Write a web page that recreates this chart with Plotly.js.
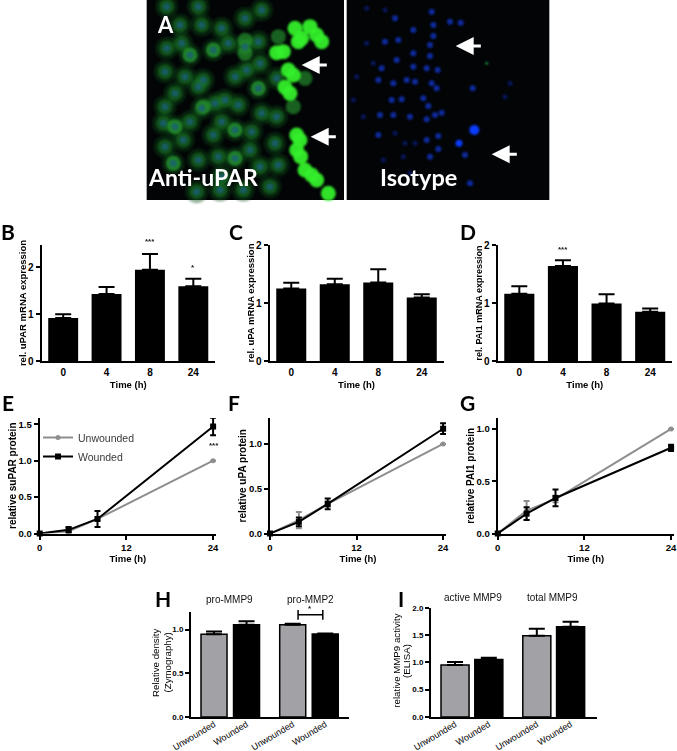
<!DOCTYPE html>
<html>
<head>
<meta charset="utf-8">
<script src="https://cdn.plot.ly/plotly-3.0.1.min.js"></script>
<style>
  html, body { margin: 0; padding: 0; background: white; }
  #chart { width: 677px; height: 751px; }
</style>
</head>
<body>
<div id="chart"></div>
<script>
// mRNA panels (B, C, D)
const timeCats = ['0', '4', '8', '24'];
const uparMrna = [0.92, 1.43, 1.95, 1.60];
const uparMrnaErr = [0.08, 0.15, 0.34, 0.16];
const upaMrna = [1.25, 1.325, 1.355, 1.095];
const upaMrnaErr = [0.10, 0.095, 0.225, 0.055];
const pai1Mrna = [1.16, 1.64, 0.99, 0.85];
const pai1MrnaErr = [0.13, 0.095, 0.16, 0.055];

// protein panels (E, F, G)
const hours = [0, 4, 8, 24];
const suparUnw = [0, 0.03, 0.20, 1.0];
const suparUnwErr = [0, 0.01, 0.02, 0];
const suparW = [0, 0.05, 0.20, 1.47];
const suparWErr = [0, 0.04, 0.11, 0.12];
const upaUnw = [0, 0.15, 0.33, 1.0];
const upaUnwErr = [0, 0.09, 0.03, 0];
const upaW = [0, 0.13, 0.33, 1.17];
const upaWErr = [0, 0.05, 0.06, 0.06];
const pai1Unw = [0, 0.22, 0.33, 1.0];
const pai1UnwErr = [0, 0.09, 0.03, 0];
const pai1W = [0, 0.19, 0.34, 0.82];
const pai1WErr = [0, 0.06, 0.08, 0.03];

// zymography + ELISA (H, I)
const woundCats = ['Unwounded', 'Wounded', 'Unwounded', 'Wounded'];
const barSlots = [0, 1, 2.42, 3.42];
const zymo = [0.947, 1.053, 1.053, 0.95];
const zymoErr = [0.03, 0.042, 0.012, 0.005];
const elisa = [0.95, 1.05, 1.488, 1.652];
const elisaErr = [0.056, 0.035, 0.128, 0.092];

// panel A micrograph, spots (crop coordinates, 3x)
const cellX = [120,185,80,175,245,315,365,125,150,220,265,315,355,80,360,135,75,190,285,320,355,410,105,175,255,295,185,225,75,150,105,70,285,220,335,245,410,365,130,75,175,100,235,285,330,405,360,415,245,170,390,310,240];
const cellY = [75,75,20,20,85,55,30,130,165,150,130,140,125,145,190,230,215,240,230,210,265,235,280,260,300,315,325,310,320,365,380,370,390,405,395,365,350,340,420,440,480,490,470,475,450,430,500,495,530,575,560,570,570];
const glowX = [315,315,220,150,285,355,190,105,285,100,495,460,415];
const glowY = [120,160,150,165,390,265,320,380,475,490,235,320,110];
const brightX = [465,485,510,475,530,545,410,430,445,460,435,450,470,480,470,482,495,515,530,565];
const brightY = [85,115,80,125,105,125,158,155,210,225,262,280,405,420,450,470,510,525,540,580];
const nucleiX = [875,880,930,962,880,870,870,860,893,875,850,865,890,860,885,905,860,895,895,975,990,870,998,785,800,770,820,820,775,765,820,735,725,715,760,825,755,810,760,720,715];
const nucleiY = [35,75,65,68,108,135,168,205,210,250,295,318,265,358,345,338,420,408,447,465,550,470,265,298,240,180,160,200,120,55,90,125,205,240,250,245,300,350,345,345,405];
const faintX = [680,735,650,670,700,680,765,795,825,790,1110,1095,640,730,810];
const faintY = [25,30,230,350,190,130,400,430,430,470,250,290,300,480,520];

const W = 677, H = 751;
const BLACK = '#000000', GREY = '#8e8e8e', BAR_GREY = '#a2a2a6';
const SANS = 'Liberation Sans, Arial, sans-serif';
const LABEL = 'Lato, Open Sans, sans-serif';

function domX(a, b) { return [a / W, b / W]; }
function domY(top, bottom) { return [1 - bottom / H, 1 - top / H]; }

const traces = [];
const layout = {
  width: W, height: H,
  margin: { l: 0, r: 0, t: 0, b: 0 },
  paper_bgcolor: 'white', plot_bgcolor: 'white',
  showlegend: true,
  legend: {
    x: 38 / W, y: 1 - 423 / H, xanchor: 'left', yanchor: 'top',
    bgcolor: 'rgba(0,0,0,0)', font: { family: SANS, size: 10.5, color: '#3a3a3a' }
  },
  annotations: [],
  shapes: []
};

function axisBase(size) {
  return {
    showgrid: false, zeroline: false, showline: true,
    linecolor: BLACK, linewidth: 2,
    ticks: 'outside', ticklen: 4, tickwidth: 2, tickcolor: BLACK,
    tickfont: { family: SANS, size: size, weight: 'bold', color: BLACK },
    ticklabeloverflow: 'allow', fixedrange: true
  };
}

function addAxes(n, xDom, yDom, xOpts, yOpts, tickSize) {
  const xName = 'xaxis' + n, yName = 'yaxis' + n;
  layout[xName] = Object.assign(axisBase(tickSize), { domain: domX(xDom[0], xDom[1]), anchor: 'y' + n }, xOpts);
  layout[yName] = Object.assign(axisBase(tickSize), { domain: domY(yDom[0], yDom[1]), anchor: 'x' + n }, yOpts);
}

function boldTitle(text, size, standoff) {
  return { text: text, standoff: standoff, font: { family: SANS, size: size, weight: 'bold', color: BLACK } };
}

function mrnaPanel(n, left, right, top, values, errs, yLabel, yMax, titleSize) {
  addAxes(n, [left, right], [top, 361], {
    type: 'linear', range: [-0.5, 3.5], tickvals: [0, 1, 2, 3], ticktext: timeCats,
    ticks: '', ticklabelstandoff: 1,
    title: boldTitle('Time (h)', 9.5, 4)
  }, {
    range: [0, yMax], tickvals: [0, 1, 2], title: boldTitle(yLabel, titleSize, 0)
  }, 10);
  traces.push({
    type: 'bar', x: [0, 1, 2, 3], y: values, width: 0.69, xaxis: 'x' + n, yaxis: 'y' + n,
    marker: { color: BLACK }, showlegend: false, hoverinfo: 'skip',
    error_y: { type: 'data', symmetric: false, array: errs, arrayminus: [0, 0, 0, 0], color: BLACK, thickness: 2, width: 8 }
  });
}

function proteinPanel(n, left, right, unw, unwErr, wnd, wndErr, yLabel, yMax, legendOn) {
  addAxes(n, [left, right], [418, 533.5], {
    range: [0, 24.4], tickvals: [0, 12, 24], ticklen: 4,
    title: boldTitle('Time (h)', 9.5, 0)
  }, {
    range: [0, yMax], tickvals: [0, 0.5, 1, 1.5], ticktext: ['0.0', '0.5', '1.0', '1.5'],
    title: boldTitle(yLabel, 10, 0)
  }, 9.5);
  const rows = [['Unwounded', unw, unwErr, GREY, 'circle', 5], ['Wounded', wnd, wndErr, BLACK, 'square', 6]];
  rows.forEach(function (r) {
    traces.push({
      type: 'scatter', mode: 'lines+markers', name: r[0], x: hours, y: r[1],
      xaxis: 'x' + n, yaxis: 'y' + n, cliponaxis: false,
      line: { color: r[3], width: 2 },
      marker: { color: r[3], symbol: r[4], size: r[5] },
      error_y: { type: 'data', array: r[2], color: r[3], thickness: 2, width: 3 },
      showlegend: !!legendOn, hoverinfo: 'skip'
    });
  });
}

function woundPanel(n, left, right, top, bottom, xRange, barW, values, errs, yMax, yTicks) {
  addAxes(n, [left, right], [top, bottom], {
    range: xRange, tickvals: barSlots, ticktext: woundCats, ticks: '', tickangle: -31,
    tickfont: { family: SANS, size: 9, color: BLACK }, linewidth: 1.5, ticklabelstandoff: -3
  }, {
    range: [0, yMax], tickvals: yTicks, ticktext: yTicks.map(function (v) { return v.toFixed(1); }),
    linewidth: 1.5, tickwidth: 1.5
  }, 8);
  traces.push({
    type: 'bar', x: barSlots, y: values, width: barW, xaxis: 'x' + n, yaxis: 'y' + n,
    marker: { color: [BAR_GREY, BLACK, BAR_GREY, BLACK], line: { color: BLACK, width: 1.5 } },
    showlegend: false, hoverinfo: 'skip',
    error_y: { type: 'data', symmetric: false, array: errs, arrayminus: [0, 0, 0, 0], color: BLACK, thickness: 2, width: 8 }
  });
}

function paperText(text, x, y, font, extra) {
  layout.annotations.push(Object.assign({
    xref: 'paper', yref: 'paper', x: x / W, y: 1 - y / H, xanchor: 'center', yanchor: 'middle',
    text: text, showarrow: false, font: font
  }, extra || {}));
}

function panelLetter(text, x, y) {
  paperText('<b>' + text + '</b>', x, y, { family: LABEL, size: 21, color: BLACK }, { xanchor: 'left' });
}

function groupTitle(text, x, y) {
  paperText(text, x, y, { family: SANS, size: 10, color: '#111111' });
}

function stars(text, x, y) {
  paperText('<b>' + text + '</b>', x, y, { family: SANS, size: 8, color: '#222222' });
}

function sideTitle(text, x, y) {
  paperText(text, x, y, { family: SANS, size: 9.7, color: BLACK }, { textangle: -90 });
}

// --- panel A ---
layout.xaxis10 = { domain: domX(140, 550), range: [0, 1230], visible: false, fixedrange: true, anchor: 'y10' };
layout.yaxis10 = { domain: domY(0, 205), range: [615, 0], visible: false, fixedrange: true, anchor: 'x10' };
[[20, 612], [620, 1228]].forEach(function (r) {
  layout.shapes.push({ type: 'rect', xref: 'x10', yref: 'y10', x0: r[0], x1: r[1], y0: 0, y1: 600, fillcolor: '#020406', line: { width: 0 }, layer: 'below' });
});
function spots(x, y, size, color, opacity) {
  traces.push({
    type: 'scatter', mode: 'markers', x: x, y: y, xaxis: 'x10', yaxis: 'y10', showlegend: false, hoverinfo: 'skip',
    marker: { size: size, color: color, opacity: opacity, line: { width: 0 } }
  });
}
spots(cellX, cellY, 23, '#0c4a16', 0.4);
spots(cellX, cellY, 15, '#1c7c26', 0.55);
spots(glowX, glowY, 15, '#2aa032', 0.6);
spots(cellX, cellY, 7, '#1a5f78', 0.8);
spots(brightX, brightY, 15, '#34ee2a', 0.95);
spots(faintX, faintY, 5, '#0a1c70', 0.8);
spots(nucleiX, nucleiY, 6, '#1030b0', 0.9);
spots([1003], [390], 10, '#0a3cff', 1);
spots([957], [430], 7, '#0a3cff', 1);
spots([1040], [190], 3, '#1c8a3a', 1);

const arrowTips = [[485, 195], [512, 410], [947, 138], [1055, 463]];
arrowTips.forEach(function (a) {
  layout.annotations.push({
    xref: 'x10', yref: 'y10', axref: 'x10', ayref: 'y10', x: a[0], y: a[1], ax: a[0] + 80, ay: a[1],
    showarrow: true, arrowhead: 2, arrowsize: 1.2, arrowwidth: 3, arrowcolor: 'white', text: ''
  });
});
[['A', 77, 72, 22], ['Anti-uPAR', 188, 530, 23], ['Isotype', 834, 530, 23.5]].forEach(function (t) {
  layout.annotations.push({
    xref: 'x10', yref: 'y10', x: t[1], y: t[2], xanchor: 'center', yanchor: 'middle',
    text: '<b>' + t[0] + '</b>', showarrow: false, font: { family: LABEL, size: t[3], color: 'white' }
  });
});

// --- chart panels ---
mrnaPanel(1, 41.5, 215, 245, uparMrna, uparMrnaErr, 'rel. uPAR mRNA expression', 2.48, 9.5);
mrnaPanel(2, 269.5, 443.5, 245, upaMrna, upaMrnaErr, 'rel. uPA mRNA expression', 2, 9.5);
mrnaPanel(3, 497.5, 672, 245, pai1Mrna, pai1MrnaErr, 'rel. PAI1 mRNA expression', 2, 9);
proteinPanel(4, 39.7, 216, suparUnw, suparUnwErr, suparW, suparWErr, 'relative suPAR protein', 1.587, true);
proteinPanel(5, 270, 446, upaUnw, upaUnwErr, upaW, upaWErr, 'relative uPA protein', 1.29, false);
proteinPanel(6, 497.7, 674, pai1Unw, pai1UnwErr, pai1W, pai1WErr, 'relative PAI1 protein', 1.105, false);

woundPanel(7, 190.7, 349.3, 612, 717, [-0.717, 4.16], 0.8, zymo, zymoErr, 1.2, [0, 0.5, 1]);
woundPanel(8, 430.7, 597.3, 607.7, 717, [-0.72, 4.21], 0.83, elisa, elisaErr, 2, [0, 0.5, 1, 1.5, 2]);

sideTitle('Relative density', 155, 663);
sideTitle('(Zymography)', 166.5, 663);
sideTitle('relative MMP9 activity', 395.7, 661);
sideTitle('(ELISA)', 406, 661);

// significance bracket on pro-MMP2
traces.push({
  type: 'scatter', mode: 'lines+markers', x: [2.585, 3.345], y: [1.168, 1.168], xaxis: 'x7', yaxis: 'y7',
  line: { color: BLACK, width: 1.5 }, marker: { symbol: 'line-ns', size: 7, line: { color: BLACK, width: 1.5 } },
  cliponaxis: false, showlegend: false, hoverinfo: 'skip'
});

stars('***', 150, 241.7);
stars('*', 193, 267);
stars('***', 563, 250);
stars('***', 214, 445);
stars('*', 310, 608);

panelLetter('B', -1, 231.5);
panelLetter('C', 227, 231.5);
panelLetter('D', 457.5, 231.5);
panelLetter('E', 0, 402.5);
panelLetter('F', 226.5, 402.5);
panelLetter('G', 457.5, 402.5);
panelLetter('H', 153, 598.5);
panelLetter('I', 396, 598);

groupTitle('pro-MMP9', 229, 599);
groupTitle('pro-MMP2', 310, 599);
groupTitle('active MMP9', 472.7, 597);
groupTitle('total MMP9', 552.7, 597);

Plotly.newPlot('chart', traces, layout, { displayModeBar: false, responsive: false }).then(function () {
  // soften the micrograph spots only
  document.querySelectorAll('.x10y10 .scatterlayer').forEach(function (g) {
    g.style.filter = 'blur(1.3px)';
  });
});
</script>
</body>
</html>
